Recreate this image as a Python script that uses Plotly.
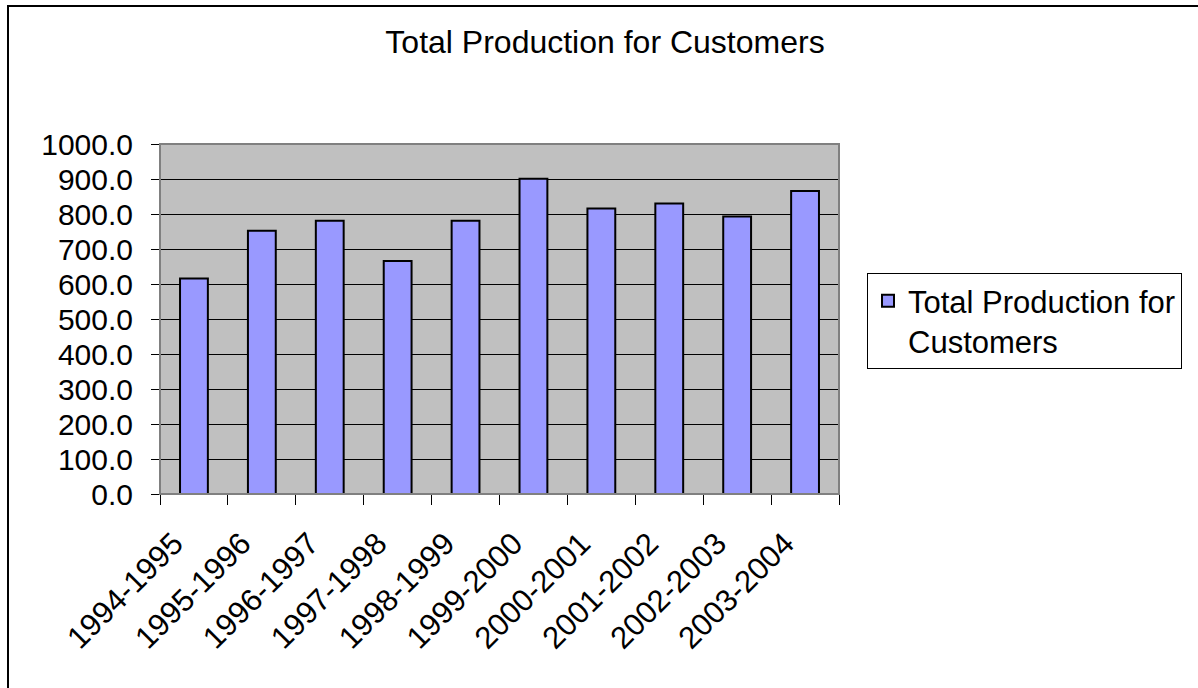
import plotly.graph_objects as go

# Seasons and yearly totals
seasons = ["1994-1995", "1995-1996", "1996-1997", "1997-1998", "1998-1999",
           "1999-2000", "2000-2001", "2001-2002", "2002-2003", "2003-2004"]
production = [616.0, 752.0, 781.0, 666.0, 781.0, 901.0, 816.0, 830.0, 793.0, 866.0]

series_name = "Total Production for<br>Customers"
chart_title = "Total Production for Customers"

W, H = 1198, 688
L, R, T, B = 160, 839, 144, 494  # plot area in pixels

FONT = "Liberation Sans, Arial, sans-serif"

fig = go.Figure(
    go.Bar(
        x=seasons,
        y=production,
        name=series_name,
        marker=dict(color="#9999FF", line=dict(color="black", width=2)),
        width=0.41,
        showlegend=True,
    )
)

pw = R - L
ph = B - T

def px_x(x):
    return (x - L) / pw

def px_y(y):
    return (B - y) / ph

fig.update_layout(
    width=W,
    height=H,
    margin=dict(l=L, r=W - R, t=T, b=H - B, autoexpand=False),
    paper_bgcolor="white",
    plot_bgcolor="#C0C0C0",
    font=dict(family=FONT, color="black", size=28),
    title=dict(
        text=chart_title,
        x=605 / W,
        xanchor="center",
        y=1 - 42 / H,
        yanchor="middle",
        xref="container",
        yref="container",
        font=dict(size=32, family=FONT, color="black"),
    ),
    showlegend=True,
    legend=dict(
        x=px_x(867),
        y=px_y(273),
        xanchor="left",
        yanchor="top",
        valign="top",
        bordercolor="black",
        borderwidth=1,
        bgcolor="white",
        font=dict(size=31, family=FONT),
        itemsizing="constant",
    ),
    bargap=0.6,
    shapes=[
        # chart frame (top and left edges visible)
        dict(type="rect", xref="paper", yref="paper",
             x0=px_x(8), x1=px_x(W + 20), y0=px_y(H + 20), y1=px_y(6),
             line=dict(color="black", width=2), fillcolor="rgba(0,0,0,0)",
             layer="below"),
        # plot-area border (gray top/right)
        dict(type="rect", xref="paper", yref="paper",
             x0=0, x1=1, y0=0, y1=1,
             line=dict(color="#808080", width=2), fillcolor="rgba(0,0,0,0)",
             layer="above"),
    ],
)

fig.update_xaxes(
    type="category",
    showgrid=False,
    showline=True,
    linecolor="black",
    linewidth=1,
    ticks="outside",
    tickson="boundaries",
    ticklen=10,
    tickcolor="black",
    tickwidth=1,
    tickangle=-45,
    ticklabelstandoff=18,
    ticklabelshift=-20,
    tickfont=dict(size=31, family=FONT),
    mirror=False,
)

fig.update_yaxes(
    range=[0, 1000],
    dtick=100,
    tick0=0,
    tickformat=".1f",
    showgrid=True,
    gridcolor="black",
    gridwidth=1,
    showline=True,
    linecolor="black",
    linewidth=1,
    ticks="outside",
    ticklen=8,
    tickcolor="black",
    tickwidth=1,
    ticklabelstandoff=12,
    tickfont=dict(size=30, family=FONT),
    zeroline=False,
)

fig.write_html("out.html")
